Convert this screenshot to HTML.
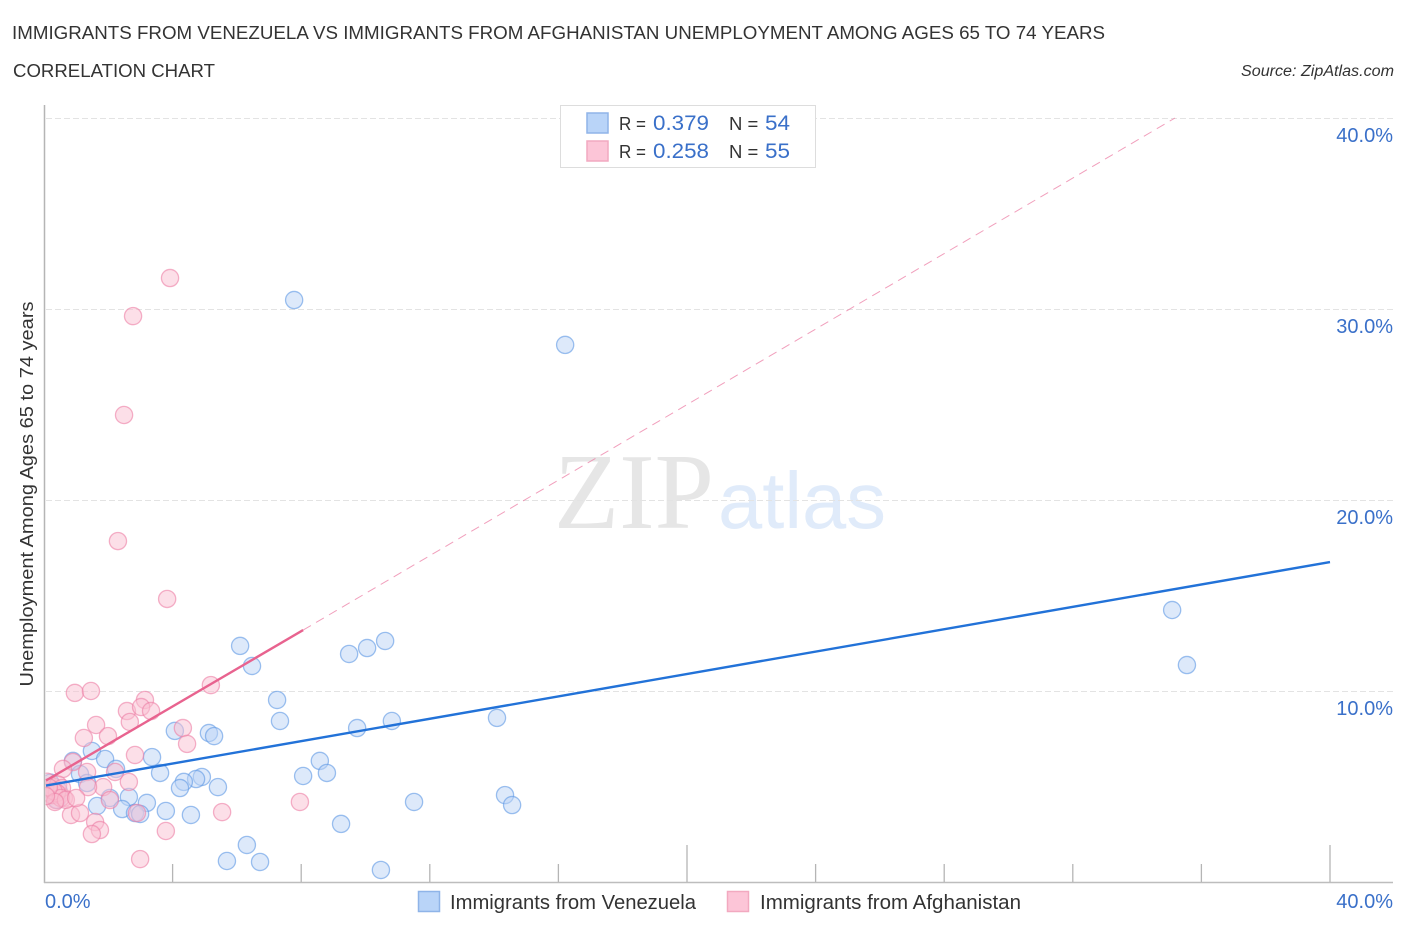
<!DOCTYPE html>
<html lang="en">
<head>
<meta charset="utf-8">
<title>Immigrants from Venezuela vs Immigrants from Afghanistan Correlation Chart</title>
<style>
html,body{margin:0;padding:0;background:#fff;width:1406px;height:930px;overflow:hidden}
svg{display:block;font-family:"Liberation Sans",sans-serif}
</style>
</head>
<body>
<svg id="chart" width="1406" height="930" viewBox="0 0 1406 930" xmlns="http://www.w3.org/2000/svg">
<defs><clipPath id="plot-clip"><rect x="45.5" y="105" width="1348" height="777"/></clipPath></defs>
<rect x="0" y="0" width="1406" height="930" fill="#ffffff"/>
<text x="12" y="39" font-size="18.5" fill="#333333" textLength="1093" lengthAdjust="spacingAndGlyphs">IMMIGRANTS FROM VENEZUELA VS IMMIGRANTS FROM AFGHANISTAN UNEMPLOYMENT AMONG AGES 65 TO 74 YEARS</text>
<text x="13" y="77" font-size="18.5" fill="#333333" textLength="202" lengthAdjust="spacingAndGlyphs">CORRELATION CHART</text>
<text x="1241" y="76" font-size="15.5" font-style="italic" fill="#333333" textLength="153" lengthAdjust="spacingAndGlyphs">Source: ZipAtlas.com</text>
<g>
<text x="554" y="528" font-family="'Liberation Serif',serif" font-size="108" fill="#e6e6e6" textLength="160" lengthAdjust="spacingAndGlyphs">ZIP</text>
<text x="718" y="528" font-size="80" fill="#e0ebfa" textLength="168" lengthAdjust="spacingAndGlyphs">atlas</text>
</g>
<g id="grid"></g>
<g id="axes"></g>
<g clip-path="url(#plot-clip)">
<g id="points-venezuela"></g>
<g id="points-afghanistan"></g>
</g>
<g id="trends"></g>
<g id="ticklabels"></g>
<text transform="translate(33,494) rotate(-90)" text-anchor="middle" font-size="18.5" fill="#333333" textLength="385" lengthAdjust="spacingAndGlyphs">Unemployment Among Ages 65 to 74 years</text>
<g>
<rect x="560.5" y="105.5" width="255" height="62" fill="#ffffff" stroke="#dddddd" stroke-width="1"/>
<rect x="587" y="113" width="21" height="20" fill="#b9d4f8" stroke="#8fb4e8" stroke-width="1.5"/>
<rect x="587" y="141" width="21" height="20" fill="#fcc5d7" stroke="#f2a9c0" stroke-width="1.5"/>
<text x="619" y="130" font-size="18.5" fill="#333333" textLength="27" lengthAdjust="spacingAndGlyphs">R =</text>
<text x="653" y="130" font-size="21" fill="#3a70c9" textLength="56" lengthAdjust="spacingAndGlyphs">0.379</text>
<text x="729" y="130" font-size="18.5" fill="#333333">N =</text>
<text x="765" y="130" font-size="21" fill="#3a70c9" textLength="25" lengthAdjust="spacingAndGlyphs">54</text>
<text x="619" y="158" font-size="18.5" fill="#333333" textLength="27" lengthAdjust="spacingAndGlyphs">R =</text>
<text x="653" y="158" font-size="21" fill="#3a70c9" textLength="56" lengthAdjust="spacingAndGlyphs">0.258</text>
<text x="729" y="158" font-size="18.5" fill="#333333">N =</text>
<text x="765" y="158" font-size="21" fill="#3a70c9" textLength="25" lengthAdjust="spacingAndGlyphs">55</text>
</g>
<g>
<rect x="418.5" y="891.5" width="21" height="20" fill="#b9d4f8" stroke="#8fb4e8" stroke-width="1.5"/>
<text x="450" y="909" font-size="20" fill="#333333" textLength="246" lengthAdjust="spacingAndGlyphs">Immigrants from Venezuela</text>
<rect x="727.5" y="891.5" width="21" height="20" fill="#fcc5d7" stroke="#f2a9c0" stroke-width="1.5"/>
<text x="760" y="909" font-size="20" fill="#333333" textLength="261" lengthAdjust="spacingAndGlyphs">Immigrants from Afghanistan</text>
</g>
</svg>
<script>
const venezuelaX = [7.78,16.21,35.09,35.55,6.10,6.47,9.49,10.05,10.61,7.25,7.34,9.74,10.82,14.09,4.07,5.13,5.29,8.58,8.06,8.80,3.36,1.49,1.90,0.90,2.24,1.12,3.61,5.41,4.91,4.73,4.35,4.23,1.34,2.64,3.20,2.05,1.65,2.43,2.83,2.99,3.79,4.57,9.24,11.51,14.34,14.56,6.31,5.69,6.72,10.48,0.20,0.10,0.45,0.40];
const venezuelaY = [30.47,28.12,14.24,11.36,12.36,11.31,11.94,12.25,12.62,9.53,8.43,8.06,8.43,8.59,7.91,7.80,7.64,6.34,5.55,5.71,6.54,6.86,6.44,6.34,5.92,5.65,5.71,4.97,5.50,5.39,5.24,4.92,5.18,4.45,4.14,4.40,3.98,3.82,3.61,3.56,3.72,3.51,3.04,4.19,4.55,4.03,1.94,1.10,1.05,0.63,5.20,4.90,4.80,4.30];
const afghanistanX = [3.92,2.77,2.49,2.30,3.83,5.19,0.96,1.46,3.14,2.58,3.02,3.33,2.67,1.62,1.24,1.99,4.32,4.45,2.83,0.90,0.59,1.34,2.21,2.64,1.84,2.05,7.96,5.54,3.79,0.84,1.12,1.59,1.74,1.49,2.99,2.89,1.37,0.09,0.19,0.28,0.37,0.50,0.62,0.12,0.25,0.44,0.56,0.40,0.30,0.52,0.68,0.15,1.00,0.34,0.06];
const afghanistanY = [31.62,29.63,24.45,17.85,14.82,10.31,9.90,10.00,9.53,8.95,9.16,8.95,8.38,8.22,7.54,7.64,8.06,7.23,6.65,6.28,5.92,5.76,5.76,5.24,4.97,4.29,4.19,3.66,2.67,3.51,3.61,3.14,2.72,2.51,1.20,3.61,4.97,5.25,4.82,5.00,4.29,4.55,4.40,4.70,4.55,5.10,4.92,4.66,4.75,4.40,4.30,4.95,4.40,4.19,4.50];
const venezuelaTrendX = [0,40];
const venezuelaTrendY = [5.03,16.75];
const afghanistanSolidX = [0,8.06];
const afghanistanSolidY = [5.25,13.19];
const afghanistanDashX = [8.06,35.18];
const afghanistanDashY = [13.19,40];
const yTickValues = [10,20,30,40];
const yTickLabels = ["10.0%","20.0%","30.0%","40.0%"];
const xTickValues = [0,4,8,12,16,20,24,28,32,36,40];
const xEndValues = [0,40];
const xEndLabels = ["0.0%","40.0%"];

const NS = "http://www.w3.org/2000/svg";
function xScale(v){ return 44 + v * 32.15; }
function yScale(v){ return 882 - v * 19.1; }
function make(parent, tag, attrs){
  const el = document.createElementNS(NS, tag);
  for (const k in attrs) el.setAttribute(k, attrs[k]);
  parent.appendChild(el);
  return el;
}
const grid = document.getElementById("grid");
yTickValues.forEach(function(v){
  const el = make(grid, "line", {x1:46, x2:1393, y1:yScale(v) + 0.5, y2:yScale(v) + 0.5, stroke:"#e3e3e3", "stroke-width":1, "stroke-dasharray":"6 3"});
  
  
});
const axes = document.getElementById("axes");
const yAxis = make(axes, "line", {x1:44.5, x2:44.5, y1:105, y2:883, stroke:"#b5b5b5", "stroke-width":1.5});


const xAxis = make(axes, "line", {x1:44, x2:1393, y1:882.5, y2:882.5, stroke:"#bdbdbd", "stroke-width":1.5});


xTickValues.forEach(function(v, i){
  if (i === 0) return;
  const tall = i % 5 === 0;
  const el = make(axes, "line", {x1:xScale(v), x2:xScale(v), y1: tall ? 845 : 864, y2:882, stroke:"#b5b5b5", "stroke-width":1.3});
  
  
});
function drawPoints(groupId, xs, ys, fill, stroke, name){
  const g = document.getElementById(groupId);
  xs.forEach(function(x, i){
    const el = make(g, "circle", {cx:xScale(x), cy:yScale(ys[i]), r:8.6, fill:fill, "fill-opacity":0.5, stroke:stroke, "stroke-opacity":0.6, "stroke-width":1.3});
    
    
  });
}
drawPoints("points-venezuela", venezuelaX, venezuelaY, "#bcd4f6", "#5e97e4", "venezuela-point");
drawPoints("points-afghanistan", afghanistanX, afghanistanY, "#f9c0d2", "#ec7fa5", "afghanistan-point");
const trends = document.getElementById("trends");
const dashLine = make(trends, "line", {x1:xScale(afghanistanDashX[0]), y1:yScale(afghanistanDashY[0]), x2:xScale(afghanistanDashX[1]), y2:yScale(afghanistanDashY[1]), stroke:"#ec7fa5", "stroke-width":1, "stroke-dasharray":"9 6", "stroke-opacity":0.75});


const pinkLine = make(trends, "line", {x1:xScale(afghanistanSolidX[0]) + 2, y1:yScale(afghanistanSolidY[0]) - 1.2, x2:xScale(afghanistanSolidX[1]), y2:yScale(afghanistanSolidY[1]), stroke:"#e8638f", "stroke-width":2.4});


const blueLine = make(trends, "line", {x1:xScale(venezuelaTrendX[0]) + 2, y1:yScale(venezuelaTrendY[0]) - 0.35, x2:xScale(venezuelaTrendX[1]), y2:yScale(venezuelaTrendY[1]), stroke:"#2272d8", "stroke-width":2.4});


const labels = document.getElementById("ticklabels");
yTickValues.forEach(function(v, i){
  const el = make(labels, "text", {x:1393, y:yScale(v) + 24, "text-anchor":"end", "font-size":20, fill:"#3a70c9"});
  el.textContent = yTickLabels[i];
  
  
});
xEndValues.forEach(function(v, i){
  const el = make(labels, "text", {x: i === 0 ? 45 : 1393, y:908, "text-anchor": i === 0 ? "start" : "end", "font-size":20, fill:"#3a70c9"});
  el.textContent = xEndLabels[i];
  
  
});
</script>
</body>
</html>
